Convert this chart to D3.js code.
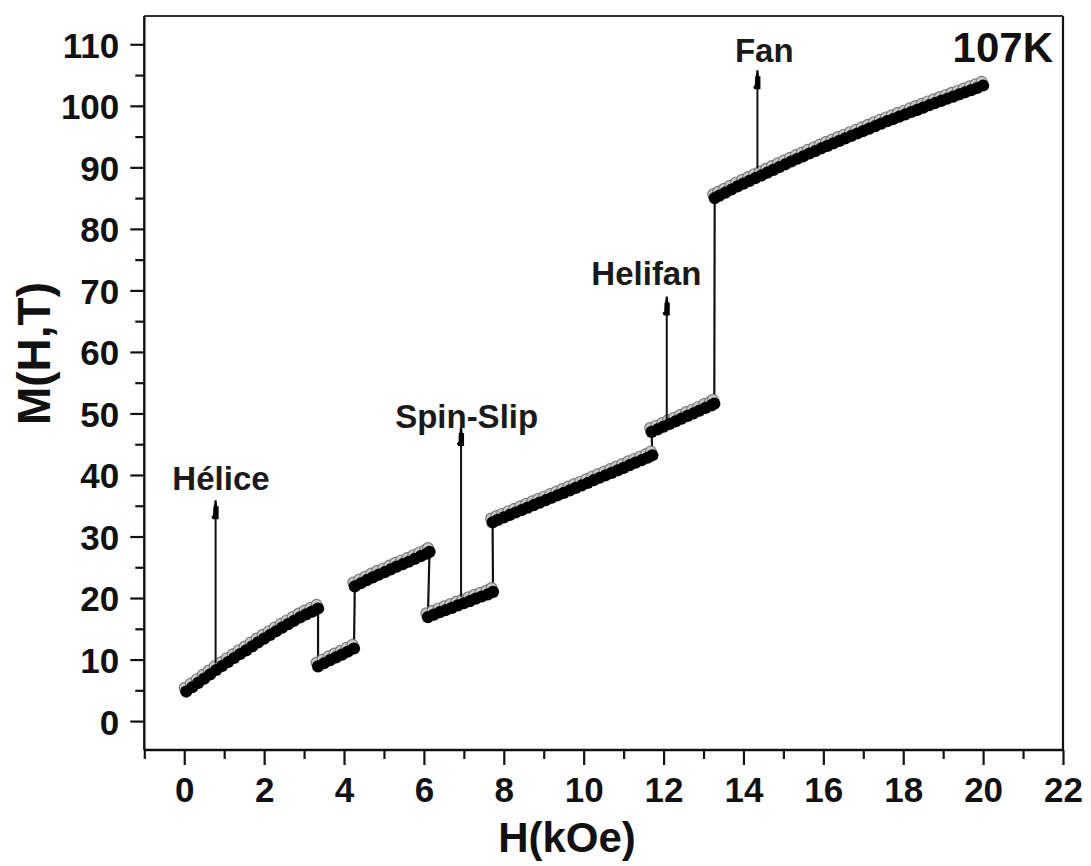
<!DOCTYPE html>
<html><head><meta charset="utf-8">
<script src="https://cdn.jsdelivr.net/npm/d3@7"></script>
<style>
body{margin:0;background:#fff}
svg{display:block}
text{font-family:"Liberation Sans",Arial,Helvetica,sans-serif}
</style>
</head><body>
<svg id="chart" width="1091" height="866"></svg>
<script>
// ---- data ----
const fieldKOe = [
  0.05,0.20,0.35,0.50,0.65,0.80,0.95,1.10,1.25,1.40,1.55,1.70,1.85,2.00,2.15,2.30,2.45,2.60,2.75,2.90,3.05,3.20,3.35,
  3.35,3.50,3.65,3.80,3.95,4.10,4.25,
  4.27,4.42,4.57,4.72,4.87,5.02,5.17,5.32,5.47,5.62,5.77,5.92,6.07,6.14,
  6.10,6.25,6.40,6.55,6.70,6.85,7.00,7.15,7.30,7.45,7.60,7.73,
  7.72,7.85,8.00,8.15,8.30,8.45,8.60,8.75,8.90,9.05,9.20,9.35,9.50,9.65,9.80,9.95,10.10,10.25,10.40,10.55,10.70,10.85,11.00,11.15,11.30,11.45,11.60,11.72,
  11.70,11.85,12.00,12.15,12.30,12.45,12.60,12.75,12.90,13.05,13.20,13.27,
  13.28,13.40,13.55,13.70,13.85,14.00,14.15,14.30,14.45,14.60,14.75,14.90,15.05,15.20,15.35,15.50,15.65,15.80,15.95,16.10,16.25,16.40,16.55,16.70,16.85,17.00,17.15,17.30,17.45,17.60,17.75,17.90,18.05,18.20,18.35,18.50,18.65,18.80,18.95,19.10,19.25,19.40,19.55,19.70,19.85,20.00
];
const magnetization = [
  4.8,5.5,6.2,6.9,7.6,8.3,8.95,9.6,10.25,10.9,11.5,12.15,12.8,13.4,14.0,14.6,15.2,15.75,16.3,16.85,17.35,17.8,18.3,
  8.9,9.4,9.9,10.35,10.8,11.3,11.8,
  21.9,22.4,22.9,23.35,23.8,24.2,24.65,25.1,25.5,25.9,26.35,26.8,27.2,27.5,
  16.9,17.3,17.7,18.05,18.4,18.8,19.15,19.5,19.9,20.25,20.6,21.0,
  32.3,32.7,33.1,33.5,33.9,34.3,34.7,35.1,35.5,35.9,36.3,36.7,37.1,37.5,37.9,38.3,38.7,39.15,39.55,39.95,40.35,40.75,41.15,41.6,42.0,42.4,42.8,43.2,
  47.0,47.4,47.85,48.3,48.7,49.15,49.6,50.0,50.45,50.9,51.3,51.6,
  85.0,85.4,85.9,86.4,86.9,87.35,87.8,88.25,88.7,89.15,89.6,90.05,90.5,90.95,91.4,91.8,92.25,92.65,93.1,93.5,93.9,94.3,94.7,95.1,95.5,95.9,96.3,96.7,97.1,97.5,97.85,98.25,98.6,99.0,99.35,99.7,100.1,100.45,100.8,101.15,101.5,101.85,102.2,102.55,102.9,103.3
];
const xMajorTicks = [0,2,4,6,8,10,12,14,16,18,20,22];
const xMinorTicks = [-1,1,3,5,7,9,11,13,15,17,19,21];
const yMajorTicks = [0,10,20,30,40,50,60,70,80,90,100,110];
const yMinorTicks = [5,15,25,35,45,55,65,75,85,95,105];
const annLabels = ["Hélice","Spin-Slip","Helifan","Fan"];
const annArrowH = [0.785, 6.93, 12.08, 14.35];
const annArrowFromM = [9.4, 20.2, 48.6, 89.8];
const annArrowToM = [35.9, 47.8, 69.0, 105.8];
const annTextH = [0.92, 7.07, 11.57, 14.52];
const annTextM = [37.5, 47.6, 70.9, 107.1];
const tempLabel = "107K";
const xTitle = "H(kOe)";
const yTitle = "M(H,T)";

// ---- drawing ----
const svg = d3.select("#chart");
const x = d3.scaleLinear().domain([-1, 22]).range([144.3, 1063]);
const y = d3.scaleLinear().domain([-4.7, 114.6]).range([750, 16]);
const ink = "#111";

// frame (top and right)
svg.append("line").attr("x1", x(-1)).attr("x2", x(22)).attr("y1", y(114.6)).attr("y2", y(114.6))
  .attr("stroke", "#333").attr("stroke-width", 2.2);
svg.append("line").attr("x1", x(22)).attr("x2", x(22)).attr("y1", y(114.6)).attr("y2", y(-4.7))
  .attr("stroke", ink).attr("stroke-width", 2.2);

// bottom axis
const gx = svg.append("g").attr("transform", `translate(0,${y(-4.7)})`);
gx.call(d3.axisBottom(x).tickValues(xMajorTicks).tickSize(15).tickSizeOuter(0).tickFormat(d3.format("d")));
const gxm = svg.append("g").attr("transform", `translate(0,${y(-4.7)})`);
gxm.call(d3.axisBottom(x).tickValues(xMinorTicks).tickSize(9).tickSizeOuter(0).tickFormat(""));
gxm.select(".domain").remove();
gx.select(".domain").attr("stroke", ink).attr("stroke-width", 2.4).attr("d", `M${x(-1)},0H${x(22)}`);
// left axis
const gy = svg.append("g").attr("transform", `translate(${x(-1)},0)`);
gy.call(d3.axisLeft(y).tickValues(yMajorTicks).tickSize(14).tickSizeOuter(0).tickFormat(d3.format("d")));
const gym = svg.append("g").attr("transform", `translate(${x(-1)},0)`);
gym.call(d3.axisLeft(y).tickValues(yMinorTicks).tickSize(9).tickSizeOuter(0).tickFormat(""));
gym.select(".domain").remove();
gy.select(".domain").attr("stroke", ink).attr("stroke-width", 2.4).attr("d", `M0,${y(114.6)}V${y(-4.7)}`);

svg.selectAll(".tick line").attr("stroke", ink).attr("stroke-width", 2.2);
gx.selectAll(".tick text").attr("y", 27).attr("dy", "0.71em")
  .attr("font-size", 35).attr("font-weight", "bold").attr("fill", ink).attr("font-family", "Liberation Sans, Arial, sans-serif");
gy.selectAll(".tick text").attr("x", -25).attr("dy", "0.37em")
  .attr("font-size", 35).attr("font-weight", "bold").attr("fill", ink).attr("font-family", "Liberation Sans, Arial, sans-serif");

// axis titles
svg.append("text").attr("x", 567).attr("y", 852).attr("text-anchor", "middle")
  .attr("font-size", 42).attr("font-weight", "bold").attr("fill", ink).text(xTitle);
svg.append("text").attr("transform", "translate(50,353.5) rotate(-90)").attr("text-anchor", "middle")
  .attr("font-size", 46).attr("font-weight", "bold").attr("fill", ink).text(yTitle);

// temperature label
svg.append("text").attr("x", 1053).attr("y", 61.7).attr("text-anchor", "end")
  .attr("font-size", 42).attr("font-weight", "bold").attr("fill", ink).text(tempLabel);

// data
const pts = fieldKOe.map((h, i) => ({h, m: magnetization[i]}));
svg.append("path").datum(pts)
  .attr("d", d3.line().x(d => x(d.h)).y(d => y(d.m)))
  .attr("fill", "none").attr("stroke", ink).attr("stroke-width", 2.2);
svg.append("g").attr("transform", "translate(-1.5,-3.8)")
  .selectAll("circle").data(pts).join("circle")
  .attr("cx", d => x(d.h)).attr("cy", d => y(d.m)).attr("r", 5.4)
  .attr("fill", "#c8c8c8").attr("stroke", "#7a7a7a").attr("stroke-width", 1.2);
svg.append("g")
  .selectAll("circle").data(pts).join("circle")
  .attr("cx", d => x(d.h)).attr("cy", d => y(d.m)).attr("r", 6.1)
  .attr("fill", "#000");

// annotations
const ann = annLabels.map((t, i) => ({t, ah: annArrowH[i], m0: annArrowFromM[i], m1: annArrowToM[i], th: annTextH[i], tm: annTextM[i]}));
const ga = svg.append("g");
ga.selectAll("line").data(ann).join("line")
  .attr("x1", d => x(d.ah)).attr("x2", d => x(d.ah))
  .attr("y1", d => y(d.m0)).attr("y2", d => y(d.m1) + 6)
  .attr("stroke", ink).attr("stroke-width", 2);
ga.selectAll("path").data(ann).join("path")
  .attr("transform", d => `translate(${x(d.ah)},${y(d.m1)})`)
  .attr("d", "M-1,0L1,0L1.6,6L3,6L3,19L-3,19L-4.2,16.5L-2.6,15L-2.2,6L-1.6,6Z")
  .attr("fill", "#000");
ga.selectAll("text").data(ann).join("text")
  .attr("x", d => x(d.th)).attr("y", d => y(d.tm)).attr("text-anchor", "middle")
  .attr("font-size", 33).attr("font-weight", "bold").attr("fill", "#1a1a1a").text(d => d.t);
</script>
</body></html>
